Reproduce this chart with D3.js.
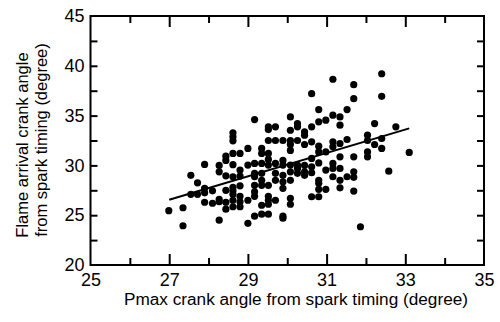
<!DOCTYPE html>
<html>
<head>
<meta charset="utf-8">
<script src="https://cdn.jsdelivr.net/npm/d3@7"></script>
<style>
  html, body { margin: 0; padding: 0; background: #fff; }
  svg { display: block; }
  text { font-family: "Liberation Sans", Arial, sans-serif; fill: #000; }
</style>
</head>
<body>
<svg id="chart" width="500" height="322"></svg>
<script>
// ---- Data ----
const pmaxAngle = [
  26.99, 27.35, 27.35, 27.55, 27.55, 27.72, 27.72,
  27.9, 27.9, 27.9, 27.9, 28.1, 28.1,
  28.27, 28.27, 28.27, 28.27, 28.27,
  28.44, 28.44, 28.44, 28.44, 28.44, 28.44,
  28.62, 28.62, 28.62, 28.62, 28.62, 28.62, 28.62, 28.62, 28.62, 28.62, 28.62,
  28.8, 28.8, 28.8, 28.8, 28.8, 28.8, 28.8,
  29.0, 29.0, 29.0, 29.0,
  29.17, 29.17, 29.17, 29.17, 29.17, 29.17, 29.17, 29.17,
  29.35, 29.35, 29.35, 29.35, 29.35, 29.35, 29.35, 29.35,
  29.52, 29.52, 29.52, 29.52, 29.52, 29.52, 29.52, 29.52, 29.52, 29.52, 29.52,
  29.7, 29.7, 29.7, 29.7, 29.7, 29.7,
  29.89, 29.89, 29.89, 29.89, 29.89, 29.89, 29.89, 29.89,
  30.08, 30.08, 30.08, 30.08, 30.08, 30.08, 30.08, 30.08, 30.08, 30.08,
  30.26, 30.26, 30.26, 30.26, 30.26, 30.26,
  30.44, 30.44, 30.44, 30.44, 30.44, 30.44,
  30.62, 30.62, 30.62, 30.62, 30.62, 30.62, 30.62,
  30.8, 30.8, 30.8, 30.8, 30.8, 30.8, 30.8, 30.8, 30.8,
  30.98, 30.98, 30.98, 30.98,
  31.16, 31.16, 31.16, 31.16, 31.16, 31.16, 31.16,
  31.34, 31.34, 31.34, 31.34, 31.34, 31.34, 31.34,
  31.52, 31.52, 31.52,
  31.69, 31.69, 31.69, 31.69, 31.69, 31.69,
  31.86,
  32.04, 32.04, 32.04, 32.04,
  32.22, 32.22,
  32.4, 32.4, 32.4, 32.4,
  32.58, 32.76, 33.1
];
const flameAngle = [
  25.45, 25.75, 23.94, 29.0, 27.1, 27.1, 28.25,
  30.1, 27.7, 27.25, 26.3, 27.45, 26.2,
  30.0, 29.35, 26.6, 26.35, 24.5,
  30.93, 30.5, 28.95, 27.5, 26.3, 25.6,
  33.27, 32.87, 32.47, 31.2, 30.07, 28.86, 27.8, 27.45, 27.1, 26.5, 25.85,
  31.2, 29.53, 28.93, 27.95, 26.9, 26.35, 25.85,
  31.7, 30.03, 26.5, 24.18,
  34.6, 30.2, 29.2, 28.86, 28.0, 27.35, 26.9, 24.9,
  31.7, 31.2, 30.2, 29.2, 28.5, 28.0, 26.0, 25.1,
  33.87, 33.6, 32.5, 31.2, 30.6, 30.03, 28.0, 26.9, 26.5, 26.1, 25.1,
  33.87, 32.5, 30.2, 29.2, 28.5, 26.5,
  32.5, 30.5, 30.03, 29.0, 28.35, 27.7, 24.9, 24.7,
  34.87, 33.53, 32.5, 32.1, 31.5, 30.03, 29.35, 28.5, 26.7, 26.1,
  32.5, 30.03, 29.7, 29.2, 34.2, 33.87,
  33.37, 33.03, 32.1, 30.0, 29.35, 29.0,
  33.87, 37.2, 32.37, 30.7, 29.86, 29.26, 26.85,
  35.6, 34.37, 31.93, 31.35, 30.25, 28.5, 28.2, 27.6, 26.85,
  34.54, 31.35, 29.53, 27.6,
  38.65, 35.04, 32.37, 31.87, 30.2, 29.7, 28.86,
  34.87, 34.04, 32.2, 30.86, 29.7, 28.5, 27.75,
  35.6, 32.6, 28.86,
  38.1, 36.7, 30.86, 29.35, 28.8, 27.42,
  23.84,
  33.03, 32.5, 31.35, 30.86,
  34.2, 32.1,
  39.2, 36.94, 32.7, 31.7,
  29.42, 33.87, 31.3
];
// Fitted line end points
const fitX = [27.0, 33.1];
const fitY = [26.55, 33.72];

const xTicks = [25, 27, 29, 31, 33, 35];
const yTicks = [20, 25, 30, 35, 40, 45];
const xTitle = "Pmax crank angle from spark timing (degree)";
const yTitle = ["Flame arrival crank angle", "from spark timing (degree)"];

// ---- Layout ----
const svg = d3.select("#chart");
const L = 90.5, R = 484, T = 16, B = 265;
const x = d3.scaleLinear().domain([25, 35]).range([L, R]);
const y = d3.scaleLinear().domain([20, 45]).range([B, T]);

const tickFont = "18px";

const xMinor = d3.range(26, 35, 1).filter(v => v % 2 === 0);
const xMajorInner = [27, 29, 31, 33];
const yInner = d3.range(22.5, 45, 2.5);

function axisStyle(g) {
  g.select(".domain").remove();
  g.selectAll("line").attr("stroke", "#000").attr("stroke-width", 2);
}

svg.append("g").attr("transform", `translate(0,${B})`)
  .call(d3.axisBottom(x).tickValues(xMajorInner).tickSize(-11).tickFormat(""))
  .call(axisStyle);
svg.append("g").attr("transform", `translate(0,${B})`)
  .call(d3.axisBottom(x).tickValues(xMinor).tickSize(-7).tickFormat(""))
  .call(axisStyle);
svg.append("g").attr("transform", `translate(0,${T})`)
  .call(d3.axisTop(x).tickValues(xMajorInner).tickSize(-11).tickFormat(""))
  .call(axisStyle);
svg.append("g").attr("transform", `translate(0,${T})`)
  .call(d3.axisTop(x).tickValues(xMinor).tickSize(-7).tickFormat(""))
  .call(axisStyle);
svg.append("g").attr("transform", `translate(${L},0)`)
  .call(d3.axisLeft(y).tickValues(yInner).tickSize(-7).tickFormat(""))
  .call(axisStyle);
svg.append("g").attr("transform", `translate(${R},0)`)
  .call(d3.axisRight(y).tickValues(yInner).tickSize(-7).tickFormat(""))
  .call(axisStyle);

const xl = svg.append("g").attr("transform", `translate(0,${B})`)
  .call(d3.axisBottom(x).tickValues(xTicks).tickSize(0).tickPadding(7).tickFormat(d3.format("d")));
xl.select(".domain").remove();
xl.selectAll("text").attr("font-size", tickFont).attr("font-family", "Liberation Sans, Arial, sans-serif").attr("dy", "0.75em");

const yl = svg.append("g").attr("transform", `translate(${L},0)`)
  .call(d3.axisLeft(y).tickValues(yTicks).tickSize(0).tickPadding(6).tickFormat(d3.format("d")));
yl.select(".domain").remove();
yl.selectAll("text").attr("font-size", tickFont).attr("font-family", "Liberation Sans, Arial, sans-serif");

svg.append("rect").attr("x", L).attr("y", T).attr("width", R - L).attr("height", B - T)
  .attr("fill", "none").attr("stroke", "#000").attr("stroke-width", 2);

const pts = pmaxAngle.map((v, i) => ({ x: v, y: flameAngle[i] }));
svg.append("g").selectAll("circle").data(pts).join("circle")
  .attr("cx", d => x(d.x)).attr("cy", d => y(d.y)).attr("r", 3.6).attr("fill", "#000");

svg.append("path")
  .datum(fitX.map((v, i) => [v, fitY[i]]))
  .attr("d", d3.line().x(d => x(d[0])).y(d => y(d[1])))
  .attr("stroke", "#000").attr("stroke-width", 2).attr("fill", "none");

svg.append("text").attr("x", 296).attr("y", 305).attr("text-anchor", "middle")
  .attr("font-size", "16px").attr("textLength", 344).attr("lengthAdjust", "spacingAndGlyphs")
  .text(xTitle);

svg.append("text").attr("transform", "translate(0,145) rotate(-90)")
  .attr("text-anchor", "middle").attr("font-size", "16.5px")
  .attr("x", 0).attr("y", 28).text(yTitle[0]);
svg.append("text").attr("transform", "translate(0,140) rotate(-90)")
  .attr("text-anchor", "middle").attr("font-size", "16.5px")
  .attr("x", 0).attr("y", 47).text(yTitle[1]);
</script>
</body>
</html>
